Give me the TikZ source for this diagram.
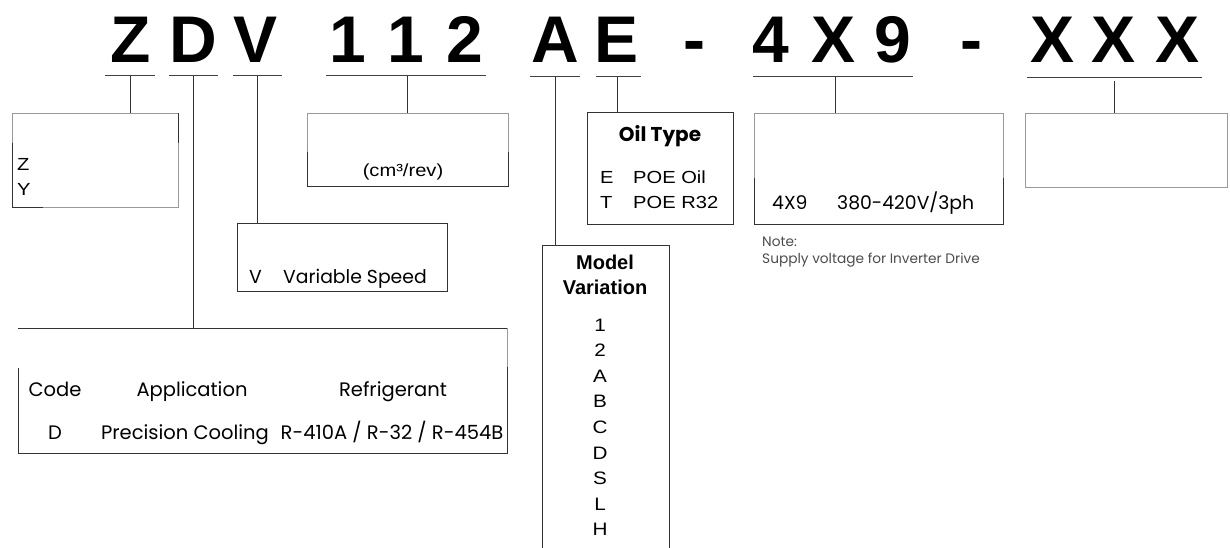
\documentclass[tikz,border=0pt]{standalone}
\usepackage{fontspec}
\setmainfont{Liberation Sans}
\newfontfamily\pop{Poppins}
\newfontfamily\arw[FakeStretch=1.15]{Liberation Sans}
\newfontfamily\arb{Liberation Sans}
\usetikzlibrary{calc}
\tikzset{
  dk/.style={draw=black!80, line width=1pt},
  lt/.style={draw=black!40, line width=0.8pt},
  ul/.style={draw=black!75, line width=1pt},
  big/.style={font=\arb\bfseries\fontsize{66}{70}\selectfont, anchor=base, inner sep=0pt},
  lab/.style={font=\arw\fontsize{17.5}{20}\selectfont, anchor=base west, inner sep=0pt},
  ptx/.style={font=\pop\fontsize{19.5}{22}\selectfont, anchor=base, inner sep=0pt},
  pts/.style={font=\pop\fontsize{18.8}{22}\selectfont, anchor=base west, inner sep=0pt},
  ptb/.style={font=\pop\bfseries\fontsize{20}{22}\selectfont, anchor=base, inner sep=0pt},
  arbold/.style={font=\arb\bfseries\fontsize{20}{22}\selectfont, anchor=base, inner sep=0pt},
  note/.style={font=\pop\fontsize{13.7}{15}\selectfont, anchor=base west, inner sep=0pt, text=black!70},
  boxn/.style={rectangle, inner sep=0pt, outer sep=0pt},
}
\begin{document}
\begin{tikzpicture}[x=1pt,y=-1pt]
\useasboundingbox (0,0) rectangle (1230,548);
\clip (0,0) rectangle (1230,548);

% model code letters
\foreach \t/\x/\n in {Z/130.5/cZ, D/193.5/cD, V/256/cV, 1/347.5/cOa, 1/406/cOb, 2/464.5/cTw,
  A/555.5/cA, E/617/cE, -/694/cHa, 4/771/cF, X/833/cXa, 9/893/cN, -/971.5/cHb,
  X/1052/cXb, X/1113/cXc, X/1177.5/cXd}
  \node[big] (\n) at (\x,63) {\t};

% underlines and connector starts
\coordinate (uZ) at (130,76);
\coordinate (uD) at (193,76);
\coordinate (uV) at (257,76);
\coordinate (u112) at (407,76);
\coordinate (uA) at (555,77);
\coordinate (uE) at (617,77);
\coordinate (u49) at (835,77);
\coordinate (uX) at (1114,81);
\draw[ul] (105,76) -- (155,76);
\draw[ul] (169,76) -- (218,76);
\draw[ul] (233,76) -- (282,76);
\draw[ul] (326,76) -- (486,76);
\draw[ul] (530,77) -- (580,77);
\draw[ul] (596,77) -- (641,77);
\draw[ul] (753,77) -- (913,77);
\draw[ul] (1027,78) -- (1202,78);

% boxes
\node[boxn, minimum width=166pt, minimum height=94pt, lt] (bZ) at (95,160) {};
\node[boxn, minimum width=201pt, minimum height=73pt, lt] (b112) at (407.5,149.5) {};
\node[boxn, minimum width=210pt, minimum height=68pt, dk] (bV) at (342,257) {};
\node[boxn, minimum width=489pt, minimum height=125pt] (bT) at (262.5,390.5) {};
\node[boxn, minimum width=146pt, minimum height=111pt, dk] (bO) at (660,168.5) {};
\node[boxn, minimum width=249pt, minimum height=111pt, lt] (b49) at (878.5,168.5) {};
\node[boxn, minimum width=202pt, minimum height=74pt, lt] (bX) at (1126,150) {};
\node[boxn, minimum width=127pt, minimum height=315pt, dk] (bM) at (605.5,402.5) {};

% darker partial borders
\draw[dk] (bZ.north east) -- ++(0,30);
\draw[dk] ($(bZ.south west)+(0,-64)$) -- (bZ.south west) -- ++(31,0);
\draw[dk] ($(b112.south west)+(0,-34)$) -- (b112.south west) -- (b112.south east) -- ++(0,-34);
\draw[dk] (bT.north west) -- (bT.north east);
\draw[lt] (bT.north east) -- ++(0,39);
\draw[dk] ($(bT.north west)+(0,40)$) -- (bT.south west) -- (bT.south east) -- ($(bT.north east)+(0,39)$);
\draw[dk] ($(b49.south west)+(0,-46)$) -- (b49.south west) -- (b49.south east) -- ++(0,-46);

% connectors
\draw[dk] (uZ) -- (uZ |- bZ.north);
\draw[dk] (uD) -- (uD |- bT.north);
\draw[dk] (uV) -- (uV |- bV.north);
\draw[dk] (u112) -- (u112 |- b112.north);
\draw[dk] (uA) -- (uA |- bM.north);
\draw[dk] (uE) -- (uE |- bO.north);
\draw[dk] (u49) -- (u49 |- b49.north);
\draw[dk] (uX) -- (uX |- bX.north);

% Z box
\node[lab] (tZ) at (17,171) {Z};
\node[lab] (tY) at (17,195) {Y};
% 112 box
\node[lab, anchor=base] (tcm) at (403,177) {(cm³/rev)};
% V box
\node[pts] (tVc) at (249,283) {V};
\node[pts] (tVs) at (283,283) {Variable Speed};
% table
\node[ptx] (hC) at (55,396) {Code};
\node[ptx] (hA) at (192,396) {Application};
\node[ptx] (hR) at (393,396) {Refrigerant};
\node[ptx] (rC) at (55,439) {D};
\node[ptx] (rA) at (185,439) {Precision Cooling};
\node[ptx] (rR) at (392,439) {R-410A / R-32 / R-454B};
% Oil type
\node[ptb] (oT) at (660,142) {Oil Type};
\node[lab] (oE) at (600,183) {E};
\node[lab] (oEt) at (633,183) {POE Oil};
\node[lab] (oT2) at (600,208) {T};
\node[lab] (oTt) at (633,208) {POE R32};
% voltage
\node[pts] (v1) at (772,209) {4X9};
\node[pts] (v2) at (837,209) {380-420V/3ph};
\node[note] (n1) at (762,246) {Note:};
\node[note] (n2) at (762,263) {Supply voltage for Inverter Drive};
% model variation
\node[arbold] (m1) at (605,269) {Model};
\node[arbold] (m2) at (605,294) {Variation};
\foreach \t [count=\i from 0] in {1,2,A,B,C,D,S,L,H}
  \node[lab, anchor=base, font=\arw\fontsize{18}{20}\selectfont] (mv\i) at (600,331+25.6*\i) {\t};
\end{tikzpicture}
\end{document}
